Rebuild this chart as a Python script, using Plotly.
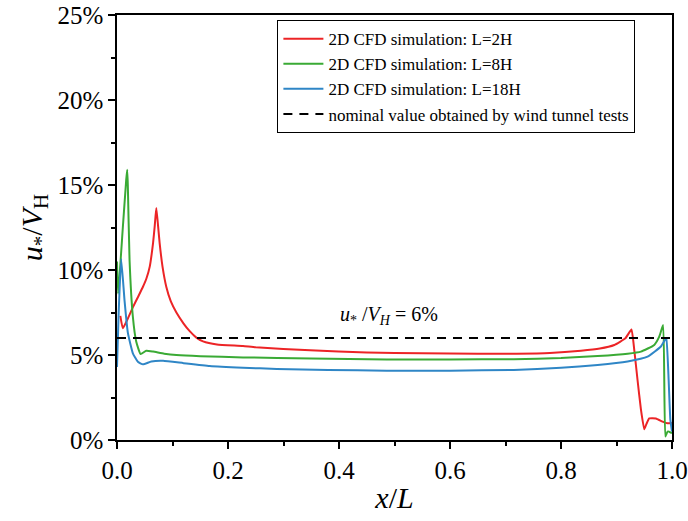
import plotly.graph_objects as go

# ---------------- data (u*/V_H in %) ----------------
x_2h = [0.006, 0.0105, 0.0196, 0.0285, 0.0376, 0.0466, 0.053, 0.059, 0.065, 0.068, 0.0708,
        0.074, 0.0768, 0.082, 0.0889, 0.097, 0.107, 0.12, 0.131, 0.143, 0.155, 0.18, 0.227,
        0.25, 0.348, 0.45, 0.55, 0.65, 0.72, 0.78, 0.836, 0.87, 0.896, 0.916, 0.927, 0.932,
        0.938, 0.944, 0.950, 0.954, 0.959, 0.971, 0.983, 0.992, 1.0]
y_2h = [7.3, 6.57, 7.15, 7.8, 8.4, 9.0, 9.5, 10.2, 11.6, 12.6, 13.65,
        12.6, 11.6, 10.2, 9.0, 8.15, 7.5, 6.85, 6.4, 6.02, 5.8, 5.62, 5.53,
        5.45, 5.28, 5.15, 5.1, 5.08, 5.08, 5.12, 5.25, 5.38, 5.59, 5.98, 6.5, 5.3,
        3.5, 1.8, 0.63, 0.95, 1.27, 1.27, 1.08, 0.98, 1.0]

x_8h = [0.0, 0.002, 0.0105, 0.0166, 0.0184, 0.0195, 0.0226, 0.0286, 0.0346, 0.0425, 0.0527,
        0.065, 0.085, 0.107, 0.15, 0.227, 0.35, 0.486, 0.6, 0.715, 0.8, 0.866, 0.92, 0.944,
        0.968, 0.977, 0.984, 0.988, 0.992, 0.995, 1.0]
y_8h = [10.5, 8.6, 12.5, 15.3, 15.9, 15.0, 10.6, 7.25, 5.8, 5.05, 5.25,
        5.2, 5.08, 5.0, 4.93, 4.86, 4.8, 4.74, 4.74, 4.75, 4.82, 4.94, 5.08, 5.2,
        5.59, 6.08, 6.76, 0.2, 0.5, 0.49, 0.4]

x_18h = [0.0, 0.003, 0.0075, 0.0136, 0.0196, 0.0286, 0.0376, 0.0467, 0.0618, 0.083, 0.12,
         0.167, 0.227, 0.288, 0.38, 0.486, 0.6, 0.715, 0.8, 0.866, 0.92, 0.956, 0.98,
         0.989, 0.990, 0.994, 0.997, 1.0]
y_18h = [4.3, 7.5, 10.65, 8.2, 6.3, 5.1, 4.6, 4.45, 4.62, 4.66, 4.52,
         4.35, 4.25, 4.18, 4.12, 4.08, 4.08, 4.12, 4.25, 4.41, 4.62, 4.9, 5.5,
         5.98, 6.0, 3.5, 1.2, 0.5]

x_nominal = [0.0, 1.0]
y_nominal = [6.0, 6.0]

names = ["2D CFD simulation: L=2H", "2D CFD simulation: L=8H",
         "2D CFD simulation: L=18H", "nominal value obtained by wind tunnel tests"]
colors = ["#ec2426", "#3aaa35", "#2f86c6", "#000000"]

y_ticks = [0, 5, 10, 15, 20, 25]
x_ticks = [0.0, 0.2, 0.4, 0.6, 0.8, 1.0]

FONT = "Liberation Serif"

fig = go.Figure()
for xs, ys, nm, c in [(x_2h, y_2h, names[0], colors[0]),
                      (x_8h, y_8h, names[1], colors[1]),
                      (x_18h, y_18h, names[2], colors[2])]:
    fig.add_trace(go.Scatter(x=xs, y=ys, mode="lines", name=nm,
                             line=dict(color=c, width=2, shape="spline", smoothing=0.4)))
fig.add_trace(go.Scatter(x=x_nominal, y=y_nominal, mode="lines", name=names[3],
                         line=dict(color=colors[3], width=2, dash="9px,7px")))

fig.add_annotation(x=0.49, y=7.35, xref="x", yref="y",
                   text="<i>u</i><sub>*</sub> /<i>V<sub>H</sub></i> = 6%",
                   showarrow=False, font=dict(family=FONT, size=20, color="black"))

fig.update_layout(
    width=688, height=521,
    margin=dict(l=117, r=16, t=15, b=81),
    paper_bgcolor="white", plot_bgcolor="white",
    font=dict(family=FONT, color="black"),
    showlegend=True,
    legend=dict(x=0.289, y=0.988, xanchor="left", yanchor="top",
                bordercolor="black", borderwidth=1, bgcolor="white",
                font=dict(family=FONT, size=17), tracegroupgap=0,
                itemwidth=40),
)
fig.update_xaxes(range=[0, 1], tickvals=x_ticks, ticktext=[f"{v:.1f}" for v in x_ticks],
                 automargin=False,
                 ticks="outside", ticklen=7, tickwidth=1.5, tickcolor="black",
                 showline=True, linecolor="black", linewidth=1.5, mirror=True,
                 showgrid=False, zeroline=False,
                 tickfont=dict(family=FONT, size=25),
                 minor=dict(dtick=0.1, tick0=0, ticks="outside", ticklen=4, tickcolor="black", tickwidth=1.5),
                 title=dict(text="<i>x</i>/<i>L</i>", font=dict(family=FONT, size=30), standoff=4))
fig.update_yaxes(range=[0, 25], tickvals=y_ticks, ticktext=[f"{v}%" for v in y_ticks],
                 automargin=False,
                 ticks="outside", ticklen=7, tickwidth=1.5, tickcolor="black",
                 showline=True, linecolor="black", linewidth=1.5, mirror=True,
                 showgrid=False, zeroline=False,
                 tickfont=dict(family=FONT, size=25),
                 minor=dict(dtick=2.5, tick0=0, ticks="outside", ticklen=4, tickcolor="black", tickwidth=1.5),
                 title=dict(text="<i>u</i><sub>*</sub>/<i>V</i><sub>H</sub>", font=dict(family=FONT, size=30), standoff=6))

fig.write_html("out.html")
